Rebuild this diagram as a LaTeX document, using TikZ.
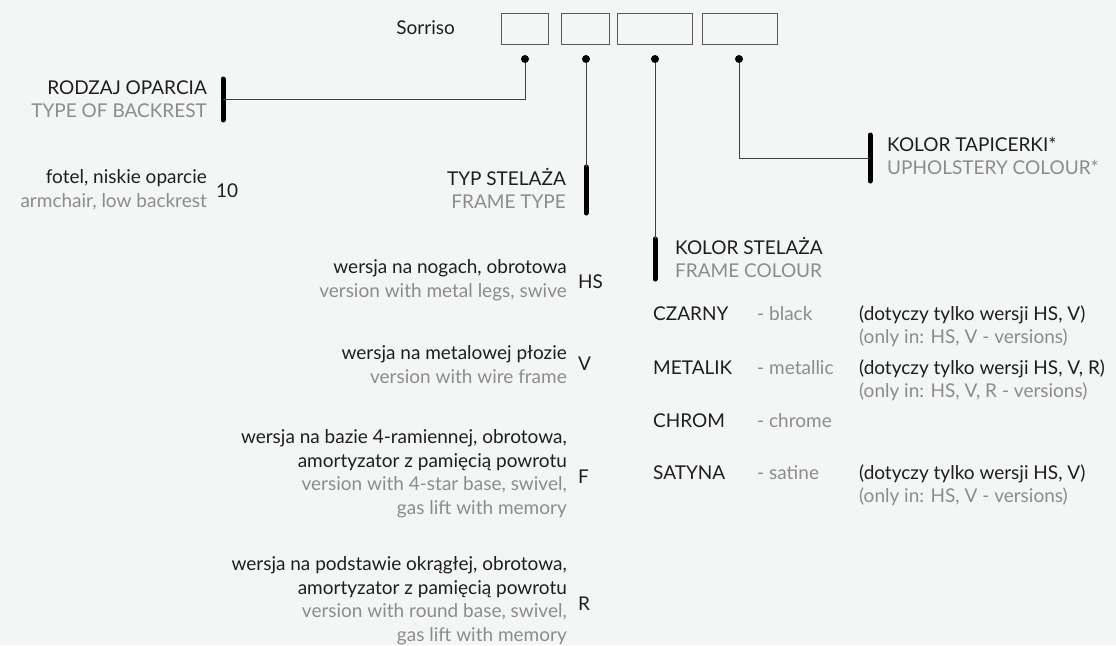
\documentclass[tikz,border=0pt]{standalone}
\usepackage{fontspec}
\setmainfont{Lato}
\usepackage{xcolor}
\usepackage{tikz}
\usetikzlibrary{positioning, calc}
\definecolor{paper}{HTML}{F4F6F6}
\definecolor{ink}{HTML}{1E1E1E}
\definecolor{mute}{HTML}{8C8C8C}
\tikzset{
  txt/.style = {
      font=\fontsize{19}{23.5}\selectfont,
      text=ink,
      inner sep=0pt
  },
  lbl/.style = {
      txt,
      anchor=base east,
      align=right
  },
  rlbl/.style = {
      txt,
      anchor=base west,
      align=left
  },
  code/.style = {
      txt,
      anchor=base west
  },
  slot/.style = {
      draw=black!65,
      line width=0.9pt,
      minimum height=31pt,
      inner sep=0pt
  },
  pin/.style = {
      circle,
      fill=black,
      minimum size=8pt,
      inner sep=0pt
  },
  link/.style = {
      draw=black!75,
      line width=0.9pt
  },
  bar/.style = {
      line width=5pt,
      line cap=round
  }
}
\newcommand{\en}[1]{\textcolor{mute}{#1}}

\begin{document}
\begin{tikzpicture}[x=1pt, y=-1pt]
    \useasboundingbox[fill=paper] (0,0) rectangle (1116,645);
    % Code slots
    \node[txt, anchor=base east] (name) at (455,34) {Sorriso};
    \node[slot, minimum width=47pt] (s1) at (524.5,28.5) {};
    \node[slot, minimum width=48pt] (s2) at (585,28.5) {};
    \node[slot, minimum width=75pt] (s3) at (654.5,28.5) {};
    \node[slot, minimum width=75pt] (s4) at (739.5,28.5) {};
    \node[pin] (p1) at (525,59) {};
    \node[pin] (p2) at (586,59) {};
    \node[pin] (p3) at (655,59) {};
    \node[pin] (p4) at (739,59) {};
    % Bars
    \coordinate (b1t) at (223,79);  \coordinate (b1b) at (223,120);
    \coordinate (b2t) at (586,167); \coordinate (b2b) at (586,213);
    \coordinate (b3t) at (655,239); \coordinate (b3b) at (655,279);
    \coordinate (b4t) at (870,135); \coordinate (b4b) at (870,181);
    \foreach \i in {1,...,4}
        \draw[bar] (b\i t) -- (b\i b);
    % Edges
    \path[link]
    (p1) |- ($(b1t)!0.5!(b1b)$)
    (p2) -- (b2t)
    (p3) -- (b3t)
    (p4) |- ($(b4t)!0.5!(b4b)$);
    % Headings (base = last line)
    \node[lbl] (back) at (207,117.5) {RODZAJ OPARCIA\\\en{TYPE OF BACKREST}};
    \node[lbl] (frame) at (566,208.5) {TYP STELAŻA\\\en{FRAME TYPE}};
    \node[rlbl] (fcol) at (675,277.5) {KOLOR STELAŻA\\\en{FRAME COLOUR}};
    \node[rlbl] (ucol) at (887,174.5) {KOLOR TAPICERKI*\\\en{UPHOLSTERY COLOUR*}};
    % Type of backrest
    \node[lbl] (d10) at (207,207) {fotel, niskie oparcie\\\en{armchair, low backrest}};
    \node[code] (c10) at (216,197) {10};
    % Frame types
    \node[lbl] (dhs) at (567,297) {wersja na nogach, obrotowa\\\en{version with metal legs, swive}};
    \node[code] (chs) at (578,288) {HS};
    \node[lbl] (dv) at (567,383) {wersja na metalowej płozie\\\en{version with wire frame}};
    \node[code] (cv) at (578,370) {V};
    \node[lbl] (df) at (567,514) {wersja na bazie 4-ramiennej, obrotowa,\\amortyzator z pamięcią powrotu\\\en{version with 4-star base, swivel,}\\\en{gas lift with memory}};
    \node[code] (cf) at (578,483) {F};
    \node[lbl] (dr) at (567,641) {wersja na podstawie okrągłej, obrotowa,\\amortyzator z pamięcią powrotu\\\en{version with round base, swivel,}\\\en{gas lift with memory}};
    \node[code] (cr) at (578,610) {R};
    % Frame colours
    \node[code] (czarny) at (653,320) {CZARNY};
    \node[code] (black) at (757,320) {\en{- black}};
    \node[rlbl] (nczarny) at (859,343.5) {(dotyczy tylko wersji HS, V)\\\en{(only in: HS, V - versions)}};
    \node[code] (metalik) at (653,374) {METALIK};
    \node[code] (metal) at (757,374) {\en{- metallic}};
    \node[rlbl] (nmetalik) at (859,397.5) {(dotyczy tylko wersji HS, V, R)\\\en{(only in: HS, V, R - versions)}};
    \node[code] (chrom) at (653,427) {CHROM};
    \node[code] (chrome) at (757,427) {\en{- chrome}};
    \node[code] (satyna) at (653,479) {SATYNA};
    \node[code] (satine) at (757,479) {\en{- satine}};
    \node[rlbl] (nsatyna) at (859,502.5) {(dotyczy tylko wersji HS, V)\\\en{(only in: HS, V - versions)}};
\end{tikzpicture}
\end{document}
